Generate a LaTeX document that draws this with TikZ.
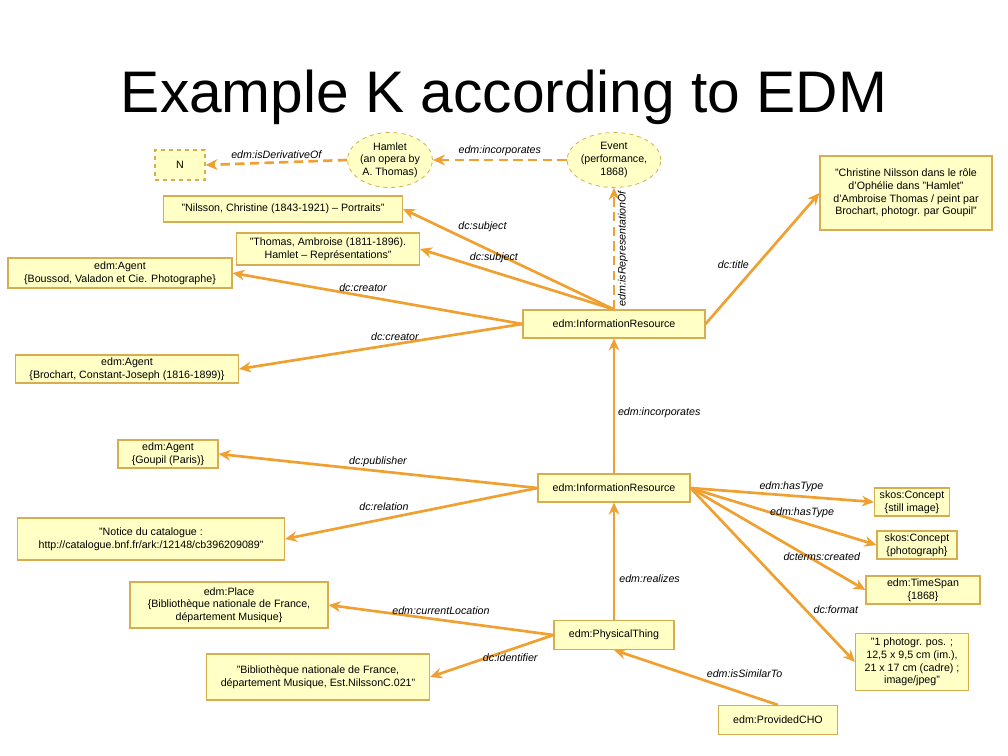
\documentclass[tikz,border=0pt]{standalone}
\usepackage{fontspec}
\setmainfont{Liberation Sans}
\usetikzlibrary{shapes.geometric,arrows.meta}
\definecolor{ln}{HTML}{F0A030}
\definecolor{bx}{HTML}{FFFFC6}
\definecolor{bd}{HTML}{D8AC50}
\begin{document}
\begin{tikzpicture}[x=0.75pt,y=-0.75pt,
  every node/.style={font=\fontsize{8}{9.5}\selectfont},
  box/.style={draw=bd,fill=bx,line width=0.8pt,align=center,inner sep=0pt},
  dbox/.style={box,dashed},
  ell/.style={ellipse,draw=bd,fill=bx,dashed,line width=0.6pt,align=center,inner sep=0pt},
  arr/.style={draw=ln,line width=2pt,-{Stealth[length=9pt,width=8pt]}},
  darr/.style={arr,dash pattern=on 7pt off 4pt},
  lab/.style={font=\fontsize{8}{9.5}\selectfont\itshape,inner sep=1pt}]
\useasboundingbox (0,0) rectangle (1008,756);
\node[font=\fontsize{44}{50}\selectfont] (title) at (504,97) {Example K according to EDM};

\node[dbox,minimum width=50*0.75pt,minimum height=30*0.75pt] (n) at (180,165) {N};
\node[ell,minimum width=85*0.75pt,minimum height=55*0.75pt] (ham) at (390,160) {Hamlet\\(an opera by\\A. Thomas)};
\node[ell,minimum width=82*0.75pt,minimum height=55*0.75pt] (ev) at (614,160) {Event\\(performance,\\1868)};
\node[box,minimum width=239*0.75pt,minimum height=26*0.75pt] (nil) at (283,209) {"Nilsson, Christine (1843-1921) -- Portraits"};
\node[box,minimum width=183*0.75pt,minimum height=32*0.75pt] (tho) at (328,249) {"Thomas, Ambroise (1811-1896).\\Hamlet -- Représentations"};
\node[box,minimum width=224*0.75pt,minimum height=30*0.75pt] (bou) at (120,273) {edm:Agent\\\{Boussod, Valadon et Cie. Photographe\}};
\node[box,minimum width=223*0.75pt,minimum height=28*0.75pt] (bro) at (127,369) {edm:Agent\\\{Brochart, Constant-Joseph (1816-1899)\}};
\node[box,minimum width=182*0.75pt,minimum height=28*0.75pt] (ir1) at (614,324) {edm:InformationResource};
\node[box,minimum width=172*0.75pt,minimum height=74*0.75pt] (tit) at (906,193) {"Christine Nilsson dans le rôle\\d'Ophélie dans "Hamlet"\\d'Ambroise Thomas / peint par\\Brochart, photogr. par Goupil"};
\node[box,minimum width=100*0.75pt,minimum height=28*0.75pt] (gou) at (168,454) {edm:Agent\\\{Goupil (Paris)\}};
\node[box,minimum width=152*0.75pt,minimum height=28*0.75pt] (ir2) at (614,488) {edm:InformationResource};
\node[box,minimum width=267*0.75pt,minimum height=42*0.75pt] (not) at (151,539) {"Notice du catalogue :\\http://catalogue.bnf.fr/ark:/12148/cb396209089"};
\node[box,minimum width=75*0.75pt,minimum height=28*0.75pt] (sk1) at (912,502) {skos:Concept\\\{still image\}};
\node[box,minimum width=80*0.75pt,minimum height=28*0.75pt] (sk2) at (917,545) {skos:Concept\\\{photograph\}};
\node[box,minimum width=114*0.75pt,minimum height=28*0.75pt] (ts) at (923,590) {edm:TimeSpan\\\{1868\}};
\node[box,minimum width=113*0.75pt,minimum height=57*0.75pt] (fmt) at (912,662) {"1 photogr. pos. ;\\12,5 x 9,5 cm (im.),\\21 x 17 cm (cadre) ;\\image/jpeg"};
\node[box,minimum width=198*0.75pt,minimum height=46*0.75pt] (pl) at (229,605) {edm:Place\\\{Bibliothèque nationale de France,\\département Musique\}};
\node[box,minimum width=120*0.75pt,minimum height=29*0.75pt] (pt) at (614,635) {edm:PhysicalThing};
\node[box,minimum width=223*0.75pt,minimum height=46*0.75pt] (bib) at (318,677) {"Bibliothèque nationale de France,\\département Musique, Est.NilssonC.021"};
\node[box,minimum width=119*0.75pt,minimum height=29*0.75pt] (cho) at (778,720) {edm:ProvidedCHO};

\draw[darr] (ham.west) -- node[lab,above=1pt] {edm:isDerivativeOf} (n.east);
\draw[darr] (ev.west) -- node[lab,above=1pt] {edm:incorporates} (ham.east);
\draw[darr] (ir1.north) -- node[lab,rotate=90,below=1pt] {edm:isRepresentationOf} (ev.south);
\draw[arr] (ir1.north) -- node[lab,pos=0.75,above right=0pt] {dc:subject} (nil.east);
\draw[arr] (ir1.north) -- node[lab,pos=0.75,above right=-1pt] {dc:subject} (tho.east);
\draw[arr] (ir1.west) -- node[lab,pos=0.55,above=1pt] {dc:creator} (bou.east);
\draw[arr] (ir1.west) -- node[lab,pos=0.45,above=1pt] {dc:creator} (bro.east);
\draw[arr] (ir1.east) -- node[lab,pos=0.45,left=4pt] {dc:title} (tit.west);
\draw[arr] (ir2.north) -- node[lab,right=1pt,pos=0.45] {edm:incorporates} (ir1.south);
\draw[arr] (ir2.west) -- node[lab,pos=0.5,above=1pt] {dc:publisher} (gou.east);
\draw[arr] (ir2.west) -- node[lab,pos=0.5,above left=0pt] {dc:relation} (not.east);
\draw[arr] (ir2.east) -- node[lab,pos=0.55,above=1pt] {edm:hasType} (sk1.west);
\draw[arr] (ir2.east) -- node[lab,pos=0.6,above=1pt] {edm:hasType} (sk2.west);
\draw[arr] (ir2.east) -- node[lab,pos=0.75,above=1pt] {dcterms:created} (ts.west);
\draw[arr] (ir2.east) -- node[lab,pos=0.7,right=4pt] {dc:format} (fmt.west);
\draw[arr] (pt.north) -- node[lab,right=2pt,pos=0.35] {edm:realizes} (ir2.south);
\draw[arr] (pt.west) -- node[lab,pos=0.5,above=2pt] {edm:currentLocation} (pl.east);
\draw[arr] (pt.west) -- node[lab,pos=0.35,below=1pt] {dc:identifier} (bib.east);
\draw[arr] (cho.north) -- node[lab,pos=0.45,above right=0pt] {edm:isSimilarTo} (pt.south);
\end{tikzpicture}
\end{document}
